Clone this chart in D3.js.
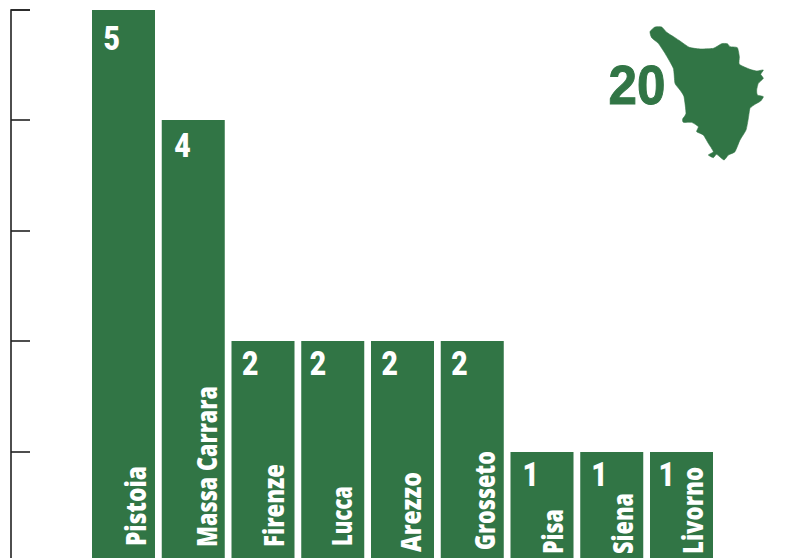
<!DOCTYPE html>
<html><head><meta charset="utf-8">
<script src="https://cdn.jsdelivr.net/npm/d3@7"></script>
<style>html,body{margin:0;padding:0;background:#fff}svg{display:block}</style>
</head><body><div id="c"></div>
<script>
const categories = ["Pistoia","Massa Carrara","Firenze","Lucca","Arezzo","Grosseto","Pisa","Siena","Livorno"];
const values = [5,4,2,2,2,2,1,1,1];
const total = 20;
const yTicks = [0,1,2,3,4,5];
// Tuscany silhouette in a 540x465 frame
const regionOutline = [[150,50],[165,36],[185,36],[200,52],[225,68],[240,78],[268,97],[300,102],[340,100],[365,86],[382,86],[390,95],[412,98],[418,125],[418,148],[450,163],[470,168],[490,165],[482,178],[490,190],[475,205],[470,225],[472,240],[490,245],[482,258],[465,268],[450,280],[445,310],[438,345],[420,375],[405,410],[385,420],[372,435],[350,418],[340,428],[325,420],[340,410],[325,385],[310,360],[290,350],[295,335],[275,322],[250,322],[248,312],[258,295],[252,245],[240,225],[225,205],[220,160],[195,115],[175,85],[155,68]];

const W=788,H=558,GREEN="#317545";
const svg=d3.select("#c").append("svg").attr("width",W).attr("height",H);
const x=d3.scaleBand().domain(categories).range([92,713]).paddingInner(0.0968).paddingOuter(0).align(0);
const y=d3.scaleLinear().domain([0,5]).rangeRound([562,10]);

// axis
const axisG=svg.append("g").attr("transform","translate(11,0)");
axisG.call(d3.axisRight(y).tickValues(yTicks).tickSize(19).tickFormat("").offset(0));
axisG.selectAll("path,line").attr("stroke","#222").attr("stroke-width",1.6);

// bars
svg.append("g").selectAll("rect").data(categories).join("rect")
  .attr("x",d=>x(d)).attr("width",x.bandwidth())
  .attr("y",(d,i)=>y(values[i])).attr("height",(d,i)=>y(0)-y(values[i]))
  .attr("fill",GREEN);

// per-label fine placement as seen in the picture
const valueDx=[11.5,12.5,10.5,8.5,10.5,10.5,12,11,8.5];
const valueDy=[39.5,37,34,34,34,34,34,34,34];
const labelDx=[54,55,52,51,50,54,52,53,53];
const labelBase=[546,547,547,546,552,550,554,554,554];
const labelLength=[80,161,83,60,80,99,45,61,87];

svg.append("g").selectAll("text").data(values).join("text")
  .attr("transform",(d,i)=>`translate(${x(categories[i])+valueDx[i]},${y(d)+valueDy[i]}) scale(0.86,1)`)
  .attr("font-family","Roboto, sans-serif").attr("font-weight",900).attr("font-size",33).attr("fill","#fff")
  .text(d=>d);

svg.append("g").selectAll("text").data(categories).join("text")
  .attr("transform",(d,i)=>`translate(${x(d)+labelDx[i]},${labelBase[i]}) rotate(-90)`)
  .attr("textLength",(d,i)=>labelLength[i]).attr("lengthAdjust","spacingAndGlyphs")
  .attr("font-family","'Open Sans', sans-serif").attr("font-weight",800).attr("font-size",28).attr("fill","#fff")
  .text(d=>d);

// region silhouette + total
const mx=d3.scaleLinear().domain([0,540]).range([600,780]);
const my=d3.scaleLinear().domain([0,465]).range([15,170]);
svg.append("path").datum(regionOutline)
  .attr("d",d3.line().x(d=>mx(d[0])).y(d=>my(d[1])).curve(d3.curveCardinalClosed.tension(0.5)))
  .attr("fill",GREEN).attr("stroke",GREEN).attr("stroke-width",0.6).attr("stroke-linejoin","round");
svg.append("text")
  .attr("transform","translate(608.5,104) scale(0.93,1)")
  .attr("font-family","'Liberation Sans', sans-serif").attr("font-weight",700).attr("font-size",55).attr("fill",GREEN)
  .attr("stroke",GREEN).attr("stroke-width",1)
  .text(total);
</script></body></html>
